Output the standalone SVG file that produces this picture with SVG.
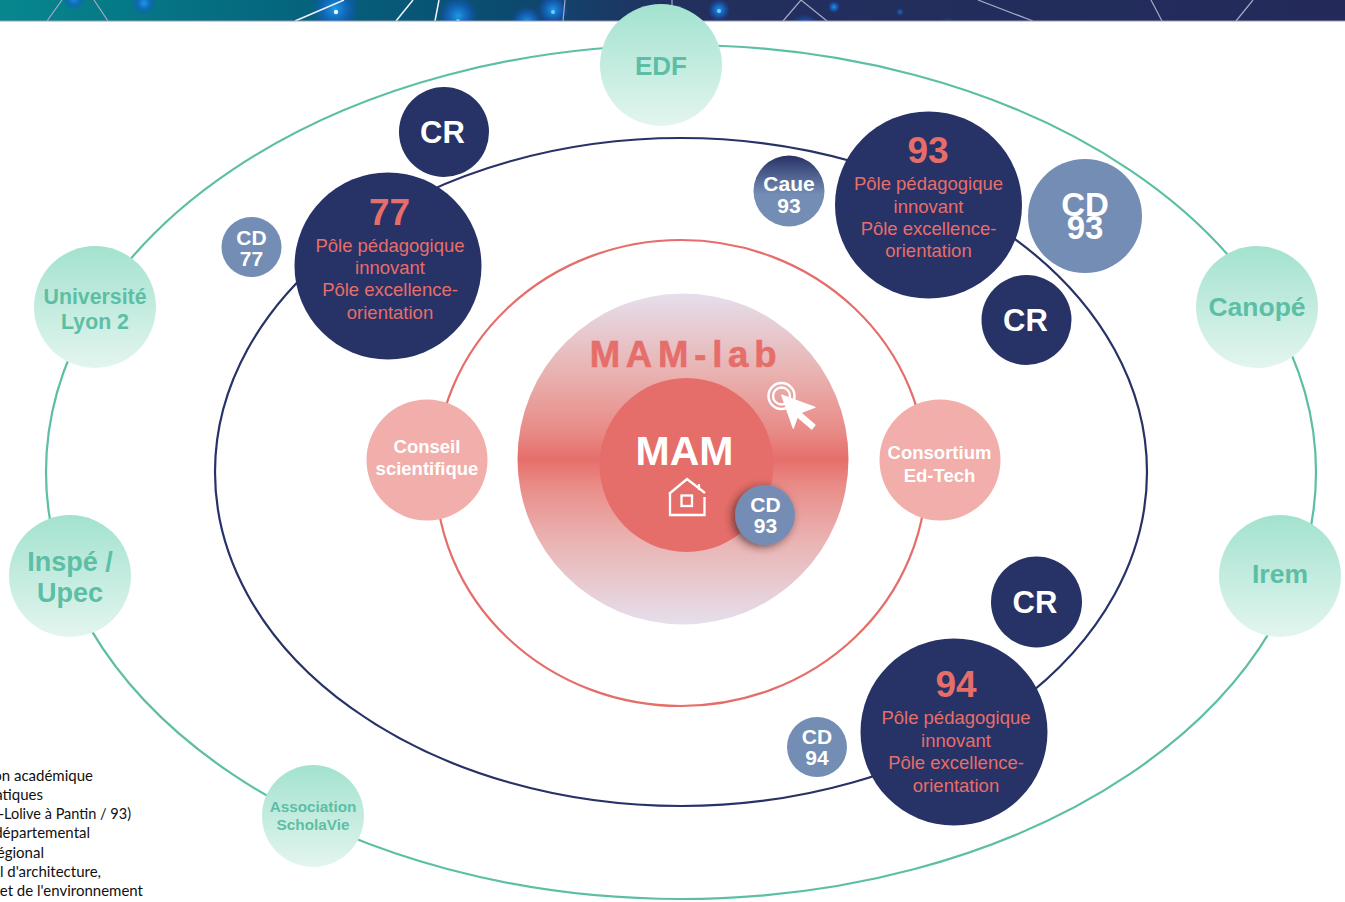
<svg xmlns="http://www.w3.org/2000/svg" width="1345" height="902" viewBox="0 0 1345 902">
<style>
text{font-family:"Liberation Sans",Arial,sans-serif;font-weight:700;text-anchor:middle}
.t{fill:#5cbfa5}.w{fill:#fff}.r{fill:#e66e6a}
.rn{fill:#e66e6a;font-weight:400;font-size:18.5px}
.n{fill:#273266}.b{fill:#748db5}.p{fill:#f1aeaa}.g{fill:url(#mint)}
.net{stroke:#a9a9c6;stroke-width:1.2;fill:none}
.lit{stroke:#f2f4fa;stroke-width:1.5;fill:none}
.leg{font-family:"Lato","Liberation Sans",sans-serif;font-weight:400;font-size:15px;text-anchor:end;fill:#111}
</style>
<defs>
<linearGradient id="head" x1="0" x2="1" y1="0" y2="0"><stop offset="0" stop-color="#06878e"/><stop offset=".25" stop-color="#05607a"/><stop offset=".38" stop-color="#0c4a70"/><stop offset=".5" stop-color="#22305e"/><stop offset="1" stop-color="#232a5a"/></linearGradient>
<linearGradient id="mint" x1="0" x2="0" y1="0" y2="1"><stop offset="0" stop-color="#a3e2cf"/><stop offset="1" stop-color="#e3f5ef"/></linearGradient>
<linearGradient id="caue" x1="0" x2="0" y1="0" y2="1"><stop offset="0" stop-color="#273266"/><stop offset=".55" stop-color="#748db5"/><stop offset="1" stop-color="#748db5"/></linearGradient>
<linearGradient id="lab" x1="0" x2="0" y1="0" y2="1"><stop offset="0" stop-color="#e5dfec"/><stop offset=".25" stop-color="#e9b0ae"/><stop offset=".42" stop-color="#e88a86"/><stop offset=".5" stop-color="#e66e6a"/><stop offset=".58" stop-color="#e98c88"/><stop offset=".75" stop-color="#eab4b3"/><stop offset="1" stop-color="#e5dfec"/></linearGradient>
<radialGradient id="glow"><stop offset="0" stop-color="#1c9be8"/><stop offset=".55" stop-color="#1565c8" stop-opacity=".7"/><stop offset="1" stop-color="#1050c0" stop-opacity="0"/></radialGradient>
<filter id="sh" x="-30%" y="-30%" width="160%" height="160%"><feDropShadow dx="-3" dy="2" stdDeviation="4" flood-color="#402020" flood-opacity=".7"/></filter>
</defs>
<g id="header">
<rect width="1345" height="21" fill="url(#head)"/>
<clipPath id="hc"><rect width="1345" height="21"/></clipPath>
<g clip-path="url(#hc)">
<circle cx="74" cy="-2" r="12" fill="url(#glow)"/><circle cx="144" cy="3" r="12" fill="url(#glow)"/><circle cx="335" cy="9" r="24" fill="url(#glow)"/><circle cx="458" cy="16" r="20" fill="url(#glow)"/><circle cx="527" cy="22" r="16" fill="url(#glow)"/><circle cx="553" cy="10" r="16" fill="url(#glow)"/><circle cx="719" cy="10" r="11" fill="url(#glow)"/><circle cx="834" cy="7" r="6" fill="url(#glow)"/><circle cx="900" cy="12" r="4" fill="url(#glow)" opacity=".6"/><circle cx="805" cy="30" r="16" fill="url(#glow)"/><circle cx="947" cy="27" r="10" fill="url(#glow)" opacity=".5"/>
<circle cx="336" cy="12" r="2.2" fill="#e5f7ff"/><circle cx="458" cy="21" r="2" fill="#6fd0ff"/><circle cx="553" cy="12" r="2" fill="#6fd0ff"/><circle cx="719" cy="11" r="2" fill="#6fd0ff"/>
</g>
<path class="net" d="M47 21 62 0M108 21 94 0M563 21 565 0M672 0V6M783 21 801 0 827 21M978 0 1033 21M1151 0 1162 21M1236 21 1253 0"/>
<path class="lit" d="M295 21 344 0M396 21 413 0M435 21 439 0"/>
<path d="M0 21H1345" stroke="#9a9ab8" stroke-width="1"/>
</g>
<g id="connectors" fill="none" stroke-width="2.2">
<ellipse cx="681" cy="472" rx="635" ry="427" stroke="#5cbfa5"/>
<ellipse cx="681" cy="472" rx="466" ry="334" stroke="#273266"/>
<ellipse cx="681" cy="473" rx="245.500" ry="233" stroke="#e66e6a"/>
</g>
<g id="legend">
<text class="leg" x="93" y="781">on académique</text>
<text class="leg" x="43" y="800">atiques</text>
<text class="leg" x="131" y="819" font-size="14.500" style="font-size:14.5px">-Lolive à Pantin / 93)</text>
<text class="leg" x="90" y="838">départemental</text>
<text class="leg" x="44" y="858">égional</text>
<text class="leg" x="101" y="877">l d'architecture,</text>
<text class="leg" x="143" y="896">et de l'environnement</text>
</g>
<g id="mam-lab">
<circle cx="683" cy="459" r="165.500" fill="url(#lab)"/>
<text x="686" y="367" class="r" font-size="36.500" letter-spacing="5.800" stroke="#e66e6a" stroke-width=".6">MAM-lab</text>
<g id="cursor">
<circle cx="781.500" cy="396" r="13" fill="none" stroke="#fff" stroke-width="2.5"/><circle cx="781.500" cy="396" r="8.500" fill="none" stroke="#fff" stroke-width="2.4"/>
<path d="M781.700 395 815 407.300 800.700 412.700 815 425 811.700 429 797.300 416.700 793.300 428.300Z" fill="#fff" stroke="#fff" stroke-width="1.2" stroke-linejoin="round"/>
</g>
</g>
<g id="mam">
<circle cx="686.500" cy="465" r="87" fill="#e66e6a"/>
<text x="684.500" y="464.500" class="w" font-size="41">MAM</text>
<path d="M669 494 687 479 705 493M670 493V515H704.500V497M699 484V490" fill="none" stroke="#fff" stroke-width="2.300"/>
<rect x="681.500" y="495.500" width="10.500" height="10.500" fill="none" stroke="#fff" stroke-width="2.300"/>
</g>
<g id="cd93-center"><circle cx="765" cy="515" r="30" class="b" filter="url(#sh)"/><text x="765.500" y="512" class="w" font-size="21">CD</text><text x="765.500" y="533" class="w" font-size="21">93</text></g>
<g id="edf"><circle cx="661" cy="65" r="61" class="g"/><text x="661" y="75" class="t" font-size="26">EDF</text></g>
<g id="lyon"><circle cx="95" cy="307" r="61" class="g"/><text x="95" y="303.500" class="t" font-size="21.300">Université</text><text x="95" y="328.500" class="t" font-size="21.300">Lyon 2</text></g>
<g id="inspe"><circle cx="70" cy="576" r="61" class="g"/><text x="70" y="570.500" class="t" font-size="27">Inspé /</text><text x="70" y="602" class="t" font-size="27">Upec</text></g>
<g id="canope"><circle cx="1257" cy="307" r="61" class="g"/><text x="1257" y="315.500" class="t" font-size="26.500">Canopé</text></g>
<g id="irem"><circle cx="1280" cy="576" r="61" class="g"/><text x="1280" y="583" class="t" font-size="26.500">Irem</text></g>
<g id="scholavie"><circle cx="313" cy="816" r="51" class="g"/><text x="313" y="812" class="t" font-size="15.300">Association</text><text x="313" y="829.500" class="t" font-size="15.300">ScholaVie</text></g>
<g id="conseil"><circle cx="427" cy="460" r="60.500" class="p"/><text x="427" y="453" class="w" font-size="18.500">Conseil</text><text x="427" y="475" class="w" font-size="18.500">scientifique</text></g>
<g id="consortium"><circle cx="940" cy="460" r="60.500" class="p"/><text x="939.500" y="459" class="w" font-size="18.500">Consortium</text><text x="939.500" y="482" class="w" font-size="18.500">Ed-Tech</text></g>
<g id="cr1"><circle cx="444" cy="132" r="45" class="n"/><text x="442.500" y="143" class="w" font-size="31">CR</text></g>
<g id="cr2"><circle cx="1026.500" cy="320" r="45" class="n"/><text x="1025.500" y="331" class="w" font-size="31">CR</text></g>
<g id="cr3"><circle cx="1036.500" cy="602" r="45.500" class="n"/><text x="1035" y="613" class="w" font-size="31">CR</text></g>
<g id="p77"><circle cx="388" cy="266" r="93.500" class="n"/><text x="389.500" y="225" class="r" font-size="37">77</text><text x="390" y="252" class="rn">Pôle pédagogique</text><text x="390" y="274" class="rn">innovant</text><text x="390" y="296" class="rn">Pôle excellence-</text><text x="390" y="319" class="rn">orientation</text></g>
<g id="p93"><circle cx="928.500" cy="205" r="93.500" class="n"/><text x="928" y="163" class="r" font-size="37">93</text><text x="928.500" y="190" class="rn">Pôle pédagogique</text><text x="928.500" y="213" class="rn">innovant</text><text x="928.500" y="235" class="rn">Pôle excellence-</text><text x="928.500" y="257" class="rn">orientation</text></g>
<g id="p94"><circle cx="954" cy="732" r="93.500" class="n"/><text x="956" y="697" class="r" font-size="37">94</text><text x="956" y="724" class="rn">Pôle pédagogique</text><text x="956" y="747" class="rn">innovant</text><text x="956" y="769" class="rn">Pôle excellence-</text><text x="956" y="792" class="rn">orientation</text></g>
<g id="cd77"><circle cx="251.500" cy="247" r="30" class="b"/><text x="251.500" y="244.500" class="w" font-size="21">CD</text><text x="251.500" y="265.500" class="w" font-size="21">77</text></g>
<g id="cd93"><circle cx="1085" cy="216" r="57" class="b"/><text x="1085" y="216" class="w" font-size="33">CD</text><text x="1085" y="239" class="w" font-size="33">93</text></g>
<g id="cd94"><circle cx="817" cy="747" r="30" class="b"/><text x="817" y="743.500" class="w" font-size="21">CD</text><text x="817" y="764.500" class="w" font-size="21">94</text></g>
<g id="caue"><circle cx="789" cy="191" r="35.500" fill="url(#caue)"/><text x="789" y="191" class="w" font-size="21">Caue</text><text x="789" y="213" class="w" font-size="21">93</text></g>
</svg>
